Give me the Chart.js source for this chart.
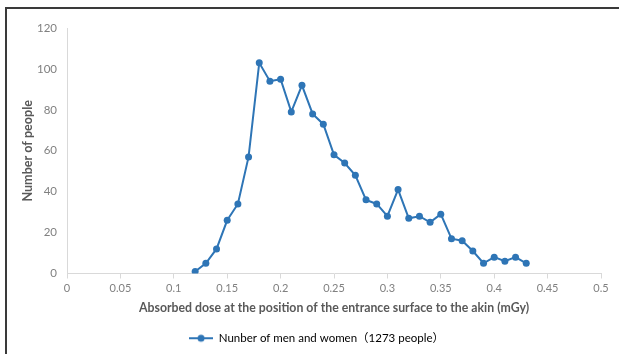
<!DOCTYPE html>
<html lang="en">
<head>
    <meta charset="UTF-8">
    <title>Absorbed dose distribution</title>
    <script src="https://cdn.jsdelivr.net/npm/chart.js"></script>
    <style>
        body { margin: 0; background: #fff; }
        #wrap { position: relative; width: 619px; height: 354px; }
        #frame {
            position: absolute; left: 5px; top: 7px; right: 0; bottom: 0;
            border-left: 2px solid #3a3a3a; border-top: 2px solid #3a3a3a;
            pointer-events: none;
        }
    </style>
</head>
<body>
<div id="wrap">
    <canvas id="doseChart" width="619" height="354"></canvas>
    <div id="frame"></div>
</div>
<script>
    // dose (mGy) and number of people
    const doses = [0.12, 0.13, 0.14, 0.15, 0.16, 0.17, 0.18, 0.19, 0.20, 0.21, 0.22,
                   0.23, 0.24, 0.25, 0.26, 0.27, 0.28, 0.29, 0.30, 0.31, 0.32, 0.33,
                   0.34, 0.35, 0.36, 0.37, 0.38, 0.39, 0.40, 0.41, 0.42, 0.43];
    const people = [1, 5, 12, 26, 34, 57, 103, 94, 95, 79, 92,
                    78, 73, 58, 54, 48, 36, 34, 28, 41, 27, 28,
                    25, 29, 17, 16, 11, 5, 8, 6, 8, 5];
    const seriesName = 'Nunber of men and women\uFF081273 people\uFF09';
    const xTitle = 'Absorbed dose at the position of the entrance surface to the akin (mGy)';
    const yTitle = 'Number of people';

    const blue = '#2e75b6';
    const fontFamily = "Lato, 'Noto Sans CJK SC', sans-serif";

    // legend marker: short line with a dot
    const marker = document.createElement('canvas');
    marker.width = 24; marker.height = 10;
    (function () {
        const c = marker.getContext('2d');
        c.strokeStyle = blue; c.lineWidth = 2;
        c.beginPath(); c.moveTo(0, 5); c.lineTo(24, 5); c.stroke();
        c.fillStyle = blue;
        c.beginPath(); c.arc(12, 5, 3.5, 0, Math.PI * 2); c.fill();
    })();

    // nudge the legend a bit to the right, like the original
    const legendShift = {
        id: 'legendShift',
        afterLayout(chart) {
            chart.legend.left += 12;
            chart.legend.right += 12;
        }
    };

    const points = doses.map((d, i) => ({ x: d, y: people[i] }));

    new Chart(document.getElementById('doseChart'), {
        type: 'line',
        data: {
            datasets: [{
                label: seriesName,
                data: points,
                borderColor: blue,
                backgroundColor: blue,
                borderWidth: 2,
                pointRadius: 3.5,
                pointHoverRadius: 3.5,
                pointBorderWidth: 0,
                tension: 0
            }]
        },
        plugins: [legendShift],
        options: {
            responsive: false,
            animation: false,
            layout: { padding: { top: 28, left: 8, right: 18, bottom: 0 } },
            plugins: {
                tooltip: { enabled: false },
                legend: {
                    position: 'bottom',
                    labels: {
                        usePointStyle: true,
                        pointStyleWidth: 24,
                        generateLabels: chart => [{
                            text: seriesName,
                            pointStyle: marker,
                            fillStyle: blue,
                            strokeStyle: blue,
                            lineWidth: 0,
                            datasetIndex: 0
                        }],
                        color: '#404040',
                        font: { family: fontFamily, size: 11.5 },
                        padding: 9
                    }
                }
            },
            scales: {
                x: {
                    type: 'linear',
                    min: 0,
                    max: 0.5,
                    afterFit: s => { s.height = 50; },
                    ticks: {
                        stepSize: 0.05,
                        color: '#808080',
                        padding: 3,
                        maxRotation: 0,
                        font: { family: fontFamily, size: 11 },
                        callback: v => Number(v.toFixed(2)).toString()
                    },
                    grid: {
                        display: true,
                        drawOnChartArea: false,
                        drawTicks: true,
                        tickLength: 5,
                        color: '#d9d9d9'
                    },
                    border: { display: true, color: '#d9d9d9', width: 1 },
                    title: {
                        display: true,
                        text: xTitle,
                        color: '#595959',
                        padding: { top: 4, bottom: 8 },
                        font: { family: fontFamily, size: 12.3, weight: 'bold' }
                    }
                },
                y: {
                    min: 0,
                    max: 120,
                    afterFit: s => { s.width = 59; },
                    ticks: {
                        stepSize: 20,
                        color: '#808080',
                        padding: 10,
                        font: { family: fontFamily, size: 11.5 }
                    },
                    grid: { display: false, drawTicks: false, tickLength: 0 },
                    border: { display: true, color: '#d9d9d9', width: 1 },
                    title: {
                        display: true,
                        text: yTitle,
                        color: '#595959',
                        padding: { top: 12, bottom: 0 },
                        font: { family: fontFamily, size: 12.6, weight: 'bold' }
                    }
                }
            }
        }
    });
</script>
</body>
</html>
